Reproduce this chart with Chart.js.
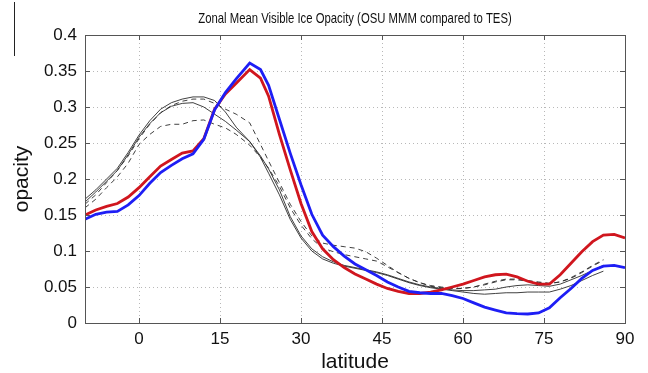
<!DOCTYPE html>
<html>
<head>
<meta charset="utf-8">
<script src="https://cdn.jsdelivr.net/npm/chart.js@4/dist/chart.umd.min.js"></script>
<style>
  html, body { margin: 0; padding: 0; background: #fff; }
  #c { display: block; }
</style>
</head>
<body>
<canvas id="c" width="648" height="373"></canvas>
<script>
// Latitude bins (degrees N)
const latitude = [-10,-8,-6,-4,-2,0,2,4,6,8,10,12,14,16,18,20.5,22.5,24,26,28,30,32,34,36,38,40,42,44,46,48,50,52,54,56,58,60,62,64,66,68,70,72,74,76,78,80,82,84,86,88,90];

// Zonal mean visible ice opacity, thick curves
const tesOpacity = [0.150,0.157,0.162,0.166,0.175,0.188,0.203,0.218,0.227,0.236,0.239,0.256,0.297,0.318,0.333,0.352,0.340,0.315,0.262,0.213,0.166,0.127,0.103,0.088,0.077,0.068,0.061,0.054,0.048,0.044,0.041,0.041,0.043,0.046,0.050,0.054,0.059,0.064,0.067,0.068,0.064,0.058,0.054,0.054,0.067,0.083,0.099,0.113,0.122,0.123,0.118];
const mmmOpacity = [0.144,0.151,0.154,0.155,0.164,0.177,0.194,0.209,0.219,0.228,0.235,0.255,0.296,0.320,0.339,0.361,0.352,0.330,0.283,0.236,0.192,0.151,0.122,0.106,0.093,0.082,0.074,0.066,0.057,0.050,0.044,0.042,0.041,0.041,0.038,0.034,0.028,0.022,0.018,0.014,0.013,0.0125,0.014,0.021,0.035,0.048,0.062,0.073,0.079,0.080,0.077];

// Thin comparison curves (solid and dashed)
const solidA = [0.172,0.185,0.200,0.215,0.237,0.261,0.281,0.297,0.306,0.311,0.314,0.314,0.309,0.293,0.272,0.252,0.230,0.208,0.178,0.144,0.118,0.100,0.089,0.083,0.079,0.076,0.073,0.070,0.066,0.061,0.056,0.052,0.049,0.047,0.045,0.043,0.041,0.040,0.041,0.042,0.042,0.043,0.043,0.043,0.047,0.052,0.059,0.066,0.072,null,null];
const solidB = [0.168,0.182,0.197,0.212,0.234,0.258,0.277,0.292,0.301,0.305,0.306,0.300,0.290,0.280,0.268,0.252,0.232,0.214,0.185,0.148,0.121,0.103,0.092,0.085,0.080,0.077,0.074,0.071,0.067,0.062,0.057,0.053,0.050,0.048,0.046,0.045,0.045,0.046,0.047,0.050,0.052,0.053,0.052,0.051,0.054,0.060,0.066,0.073,0.080,null,null];
const dashedA = [0.165,0.178,0.195,0.212,0.232,0.256,0.276,0.292,0.302,0.308,0.311,0.311,0.305,0.297,0.290,0.278,0.248,0.225,0.195,0.165,0.141,0.121,0.111,0.108,0.106,0.104,0.099,0.090,0.080,0.070,0.062,0.056,0.051,0.049,0.048,0.048,0.050,0.054,0.058,0.061,0.061,0.059,0.057,0.055,0.057,0.062,0.070,0.079,0.087,null,null];
const dashedB = [0.160,0.172,0.188,0.203,0.222,0.248,0.262,0.273,0.276,0.276,0.281,0.282,0.276,0.271,0.262,0.247,0.230,0.215,0.190,0.160,0.136,0.117,0.104,0.099,0.095,0.092,0.089,0.086,0.078,0.070,0.062,0.056,0.052,0.050,0.048,0.048,0.050,0.053,0.057,0.060,0.060,0.058,0.056,0.055,0.057,0.063,0.071,0.080,0.088,null,null];

// Axis ticks
const xTickValues = [0, 15, 30, 45, 60, 75, 90];
const yTickValues = [0, 0.05, 0.1, 0.15, 0.2, 0.25, 0.3, 0.35, 0.4];

const chartTitle = 'Zonal Mean Visible Ice Opacity (OSU MMM compared to TES)';

const FONT = "'Liberation Sans', Arial, Helvetica, sans-serif";

function points(values) {
  return latitude.map((lat, i) => ({ x: lat, y: values[i] }));
}

function thin(values, dashed) {
  return {
    data: points(values),
    borderColor: '#2b2b2b',
    borderWidth: 0.9,
    borderDash: dashed ? [5, 4] : [],
    pointRadius: 0,
    tension: 0,
    spanGaps: false
  };
}

// Box around the plot, inward tick marks, the title and the thin rule at the left margin
const axesBox = {
  id: 'axesBox',
  afterDraw(chart) {
    const { ctx, chartArea: a, scales: { x, y } } = chart;
    ctx.save();
    ctx.strokeStyle = '#555';
    ctx.lineWidth = 1;
    ctx.strokeRect(Math.round(a.left) + 0.5, Math.round(a.top) + 0.5,
                   Math.round(a.right - a.left), Math.round(a.bottom - a.top));
    ctx.beginPath();
    const tl = 5;
    xTickValues.forEach(v => {
      const px = Math.round(x.getPixelForValue(v)) + 0.5;
      ctx.moveTo(px, a.bottom); ctx.lineTo(px, a.bottom - tl);
      ctx.moveTo(px, a.top); ctx.lineTo(px, a.top + tl);
    });
    yTickValues.forEach(v => {
      const py = Math.round(y.getPixelForValue(v)) + 0.5;
      ctx.moveTo(a.left, py); ctx.lineTo(a.left + tl, py);
      ctx.moveTo(a.right, py); ctx.lineTo(a.right - tl, py);
    });
    ctx.stroke();
    ctx.beginPath();
    ctx.strokeStyle = '#222';
    ctx.moveTo(14.5, 2); ctx.lineTo(14.5, 56);
    ctx.stroke();

    // condensed title centred over the plot
    ctx.fillStyle = '#111';
    ctx.font = '14.5px ' + FONT;
    ctx.textAlign = 'center';
    ctx.textBaseline = 'middle';
    ctx.translate((a.left + a.right) / 2, 19);
    ctx.scale(0.78, 1);
    ctx.fillText(chartTitle, 0, 0);
    ctx.restore();
  }
};

new Chart(document.getElementById('c'), {
  type: 'line',
  data: {
    datasets: [
      { data: points(mmmOpacity), borderColor: '#1e1ef5', borderWidth: 2.8, pointRadius: 0, tension: 0 },
      { data: points(tesOpacity), borderColor: '#d0161e', borderWidth: 2.8, pointRadius: 0, tension: 0 },
      thin(solidA, false),
      thin(solidB, false),
      thin(dashedA, true),
      thin(dashedB, true)
    ]
  },
  options: {
    responsive: false,
    animation: false,
    devicePixelRatio: 1,
    layout: { padding: { left: 0, right: 23, top: 35, bottom: 0 } },
    plugins: {
      legend: { display: false },
      tooltip: { enabled: false },
      title: { display: false }
    },
    scales: {
      x: {
        type: 'linear',
        min: -10,
        max: 90,
        afterBuildTicks(scale) { scale.ticks = xTickValues.map(v => ({ value: v })); },
        afterFit(scale) { scale.height = 50; },
        ticks: { color: '#111', font: { family: FONT, size: 17 }, padding: 6, maxRotation: 0 },
        grid: { color: '#b8b8b8', lineWidth: 1, drawTicks: false },
        border: { display: false, dash: [1, 3] },
        title: { display: true, text: 'latitude', color: '#111', font: { family: FONT, size: 21, lineHeight: 1.0 }, padding: { top: 0, bottom: 0 } }
      },
      y: {
        type: 'linear',
        min: 0,
        max: 0.4,
        afterBuildTicks(scale) { scale.ticks = yTickValues.map(v => ({ value: v })); },
        afterFit(scale) { scale.width = 85; },
        ticks: { color: '#111', font: { family: FONT, size: 17 }, padding: 8,
                 callback: v => String(v) },
        grid: { color: '#b8b8b8', lineWidth: 1, drawTicks: false },
        border: { display: false, dash: [1, 3] },
        title: { display: true, text: 'opacity', color: '#111', font: { family: FONT, size: 21 }, padding: { top: 10, bottom: 0 } }
      }
    }
  },
  plugins: [axesBox]
});
</script>
</body>
</html>
